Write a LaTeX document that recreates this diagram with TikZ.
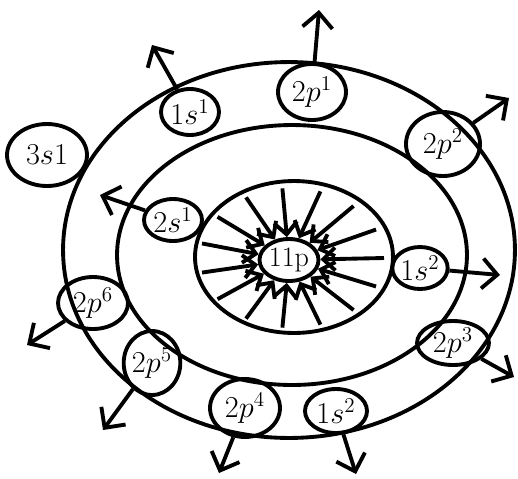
\documentclass[tikz,border=0pt]{standalone}
\usetikzlibrary{shapes.geometric,arrows.meta}
\begin{document}
\begin{tikzpicture}[
    x=0.02cm, y=-0.02cm,
    font=\LARGE,
    ring/.style={draw=black, line width=2.2pt},
    electron/.style={ellipse, draw=black, line width=2.2pt, inner sep=0pt},
    esize/.style 2 args={minimum width=#1mm, minimum height=#2mm},
    nucleus/.style={electron, inner sep=-1.5pt, font=\fontsize{16}{18}\selectfont},
    emit/.style={line width=2.2pt, -{Straight Barb[length=3mm, width=6mm]}},
    pull/.style={line width=2.2pt, -{Straight Barb[length=2.4mm, width=4.6mm]}},
  ]
  \useasboundingbox (0,0) rectangle (518,478);
  % rings
  \draw[ring] (289,250) ellipse [x radius=45.2mm, y radius=37.6mm];
  \draw[ring] (292,255) ellipse [x radius=35mm, y radius=26mm];
  \draw[ring] (294,257) ellipse [x radius=19.8mm, y radius=15.2mm];
  % nucleus
  \node[nucleus, esize={11.8}{8.4}] (nuc) at (289,260) {11p};
  \foreach \a [count=\i] in {0,24,...,336} {
    \coordinate (p\i) at ({292+92*cos(\a)},{258+70*sin(\a)});
    \draw[pull] (p\i) -- (nuc);
  }
  % electrons
  \node[electron, esize={11.6}{9.2}]  (e1s1)  at (190,112) {$1s^1$};
  \node[electron, esize={16}{12.4}]   (e3s)   at (47,155)  {$3s1$};
  \node[electron, esize={11.6}{8.4}]  (e2s1)  at (173,220) {$2s^1$};
  \node[electron, esize={13.6}{11.2}] (e2p1)  at (312,92)  {$2p^1$};
  \node[electron, esize={14.8}{12.8}] (e2p2)  at (443,144) {$2p^2$};
  \node[electron, esize={10.8}{8.4}]  (e1s2a) at (420,268) {$1s^2$};
  \node[electron, esize={14.4}{8.8}]  (e2p3)  at (453,343) {$2p^3$};
  \node[electron, esize={12.4}{8.8}]  (e1s2b) at (336,411) {$1s^2$};
  \node[electron, esize={14}{11.6}]   (e2p4)  at (245,408) {$2p^4$};
  \node[electron, esize={10.8}{12.8}] (e2p5)  at (152,363) {$2p^5$};
  \node[electron, esize={14}{10.4}]   (e2p6)  at (93,303)  {$2p^6$};
  % arrow ends
  \coordinate (t1s1)  at (152,45);
  \coordinate (t2s1)  at (100,195);
  \coordinate (t2p1)  at (319,10);
  \coordinate (t2p2)  at (509,98);
  \coordinate (t1s2a) at (500,275);
  \coordinate (t2p3)  at (514,377);
  \coordinate (t1s2b) at (356,474);
  \coordinate (t2p4)  at (219,473);
  \coordinate (t2p5)  at (103,430);
  \coordinate (t2p6)  at (27,345);
  \draw[emit] (e1s1) -- (t1s1);
  \draw[emit] (e2s1) -- (t2s1);
  \draw[emit] (e2p1) -- (t2p1);
  \draw[emit] (e2p2) -- (t2p2);
  \draw[emit] (e1s2a) -- (t1s2a);
  \draw[emit] (e2p3) -- (t2p3);
  \draw[emit] (e1s2b) -- (t1s2b);
  \draw[emit] (e2p4) -- (t2p4);
  \draw[emit] (e2p5) -- (t2p5);
  \draw[emit] (e2p6) -- (t2p6);
\end{tikzpicture}
\end{document}
